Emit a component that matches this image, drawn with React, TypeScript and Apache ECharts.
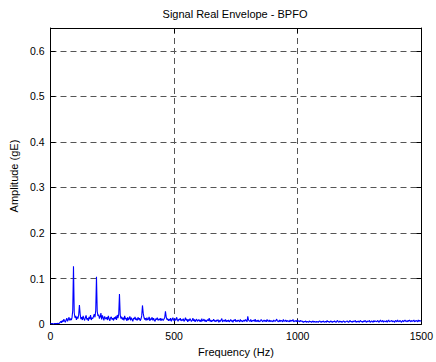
import React, { useEffect, useRef } from "react";
import * as echarts from "echarts";

const TITLE = "Signal Real Envelope - BPFO";
const X_NAME = "Frequency (Hz)";
const Y_NAME = "Amplitude (gE)";
const FREQ_STEP_HZ = 3;
const X_MIN = 0;
const X_MAX = 1500;
const X_INTERVAL = 500;
const Y_MIN = 0;
const Y_MAX = 0.65;
const Y_INTERVAL = 0.1;

const AMPLITUDE_GE = [
  .002,.001,.001,.001,.000,.001,.001,.001,.001,.001,.002,.001,.002,.004,.006,.003,.008,.005,.011,.007,
  .004,.009,.013,.006,.010,.015,.008,.012,.009,.014,.030,.127,.025,.014,.018,.009,.016,.012,.020,.042,
  .022,.011,.015,.009,.018,.012,.008,.014,.019,.010,.013,.007,.016,.011,.020,.009,.014,.012,.017,.022,
  .015,.030,.104,.028,.018,.021,.012,.016,.024,.010,.019,.014,.008,.017,.013,.011,.015,.009,.018,.012,
  .007,.014,.016,.010,.013,.008,.015,.011,.017,.009,.020,.013,.022,.066,.020,.012,.016,.010,.014,.008,
  .018,.011,.013,.007,.015,.009,.012,.017,.008,.014,.010,.006,.013,.011,.016,.009,.012,.008,.015,.010,
  .013,.007,.011,.018,.041,.024,.015,.010,.013,.008,.014,.009,.011,.016,.007,.012,.010,.015,.008,.013,
  .009,.006,.012,.010,.014,.008,.011,.009,.013,.007,.012,.010,.008,.011,.014,.028,.016,.010,.012,.007,
  .011,.008,.013,.006,.010,.014,.009,.007,.012,.008,.015,.010,.006,.011,.009,.013,.007,.010,.008,.012,
  .006,.009,.014,.008,.011,.005,.010,.007,.012,.009,.006,.008,.013,.007,.010,.005,.009,.011,.006,.008,
  .010,.006,.009,.005,.012,.007,.008,.011,.006,.009,.005,.008,.010,.007,.013,.006,.009,.005,.008,.007,
  .011,.006,.008,.005,.009,.007,.010,.004,.008,.006,.009,.012,.005,.007,.009,.006,.010,.005,.008,.006,
  .009,.005,.007,.010,.006,.008,.004,.009,.007,.011,.005,.008,.006,.009,.007,.005,.010,.006,.008,.005,
  .007,.009,.006,.010,.008,.005,.017,.009,.007,.006,.010,.005,.008,.007,.009,.006,.011,.005,.008,.006,
  .009,.005,.007,.006,.010,.008,.005,.007,.009,.006,.008,.005,.010,.007,.006,.009,.005,.008,.006,.007,
  .005,.009,.007,.006,.008,.011,.006,.007,.005,.009,.006,.008,.007,.005,.010,.006,.007,.009,.005,.008,
  .006,.007,.005,.009,.006,.008,.007,.010,.005,.007,.006,.008,.005,.009,.006,.007,.005,.008,.006,.007,
  .005,.004,.006,.005,.007,.004,.006,.005,.004,.007,.005,.006,.004,.005,.007,.004,.006,.005,.004,.006,
  .005,.004,.006,.007,.005,.004,.006,.005,.007,.004,.005,.006,.004,.008,.005,.006,.004,.005,.007,.005,
  .004,.006,.005,.007,.005,.004,.006,.008,.005,.004,.007,.005,.006,.004,.005,.007,.006,.004,.005,.006,
  .007,.005,.004,.006,.008,.005,.006,.004,.007,.005,.006,.008,.004,.006,.005,.007,.004,.006,.008,.005,
  .006,.004,.007,.005,.008,.006,.004,.007,.005,.006,.008,.004,.005,.007,.006,.004,.008,.005,.007,.006,
  .005,.008,.006,.004,.007,.009,.005,.006,.008,.004,.007,.006,.005,.008,.004,.007,.009,.005,.006,.007,
  .008,.005,.007,.006,.004,.008,.007,.005,.009,.006,.005,.008,.007,.004,.006,.008,.005,.007,.009,.006,
  .007,.005,.008,.006,.009,.007,.005,.008,.006,.007,.009,.005,.006,.008,.007,.005,.009,.006,.008,.007,
  .006,
];

const FONT = "'Liberation Sans', Arial, sans-serif";

export default function App() {
  const ref = useRef<HTMLDivElement>(null);

  useEffect(() => {
    const chart = echarts.init(ref.current!, null, { renderer: "svg" });
    const data = AMPLITUDE_GE.map((v, i) => [i * FREQ_STEP_HZ, v]);
    const gridLeft = 47;
    const gridRight = 13;
    const splitStyle = { color: "#555", width: 1, type: [6, 4] as number[] };
    const tickStyle = { show: true, inside: true, length: 5, lineStyle: { color: "#000" } };
    chart.setOption({
      animation: false,
      backgroundColor: "#fff",
      textStyle: { fontFamily: FONT },
      grid: { left: gridLeft, right: gridRight, top: 28, bottom: 33, containLabel: false },
      graphic: [
        {
          type: "text",
          x: gridLeft + (436 - gridLeft - gridRight) / 2,
          y: 14,
          style: {
            text: TITLE,
            fontSize: 11,
            fontFamily: FONT,
            fill: "#000",
            align: "center",
            verticalAlign: "middle",
          },
        },
      ],
      xAxis: [
        {
          type: "value",
          min: X_MIN,
          max: X_MAX,
          interval: X_INTERVAL,
          name: X_NAME,
          nameLocation: "middle",
          nameGap: 18,
          nameTextStyle: { fontSize: 11, color: "#000", fontFamily: FONT },
          axisLine: { show: true, lineStyle: { color: "#000", width: 1 } },
          axisTick: tickStyle,
          axisLabel: {
            fontSize: 10.5,
            color: "#000",
            margin: 6,
            fontFamily: FONT,
            formatter: (v: number) => String(v),
          },
          splitLine: { show: true, lineStyle: splitStyle },
        },
        {
          type: "value",
          position: "top",
          min: X_MIN,
          max: X_MAX,
          interval: X_INTERVAL,
          axisLine: { show: true, onZero: false, lineStyle: { color: "#000", width: 1 } },
          axisTick: tickStyle,
          axisLabel: { show: false },
          splitLine: { show: false },
        },
      ],
      yAxis: [
        {
          type: "value",
          min: Y_MIN,
          max: Y_MAX,
          interval: Y_INTERVAL,
          name: Y_NAME,
          nameLocation: "middle",
          nameGap: 27,
          nameTextStyle: { fontSize: 11, color: "#000", fontFamily: FONT },
          axisLine: { show: true, lineStyle: { color: "#000", width: 1 } },
          axisTick: tickStyle,
          axisLabel: {
            fontSize: 10.5,
            color: "#000",
            margin: 6,
            showMaxLabel: false,
            fontFamily: FONT,
            formatter: (v: number) => String(Math.round(v * 10) / 10),
          },
          splitLine: { show: true, lineStyle: splitStyle },
        },
        {
          type: "value",
          position: "right",
          min: Y_MIN,
          max: Y_MAX,
          interval: Y_INTERVAL,
          axisLine: { show: true, onZero: false, lineStyle: { color: "#000", width: 1 } },
          axisTick: tickStyle,
          axisLabel: { show: false },
          splitLine: { show: false },
        },
      ],
      series: [
        {
          type: "line",
          data,
          xAxisIndex: 0,
          yAxisIndex: 0,
          showSymbol: false,
          symbol: "none",
          silent: true,
          lineStyle: { color: "#0000ff", width: 1.1 },
          z: 3,
        },
      ],
    });
    return () => chart.dispose();
  }, []);

  return (
    <div
      ref={ref}
      style={{ position: "fixed", left: 0, top: 0, width: 436, height: 362, background: "#fff" }}
    />
  );
}
